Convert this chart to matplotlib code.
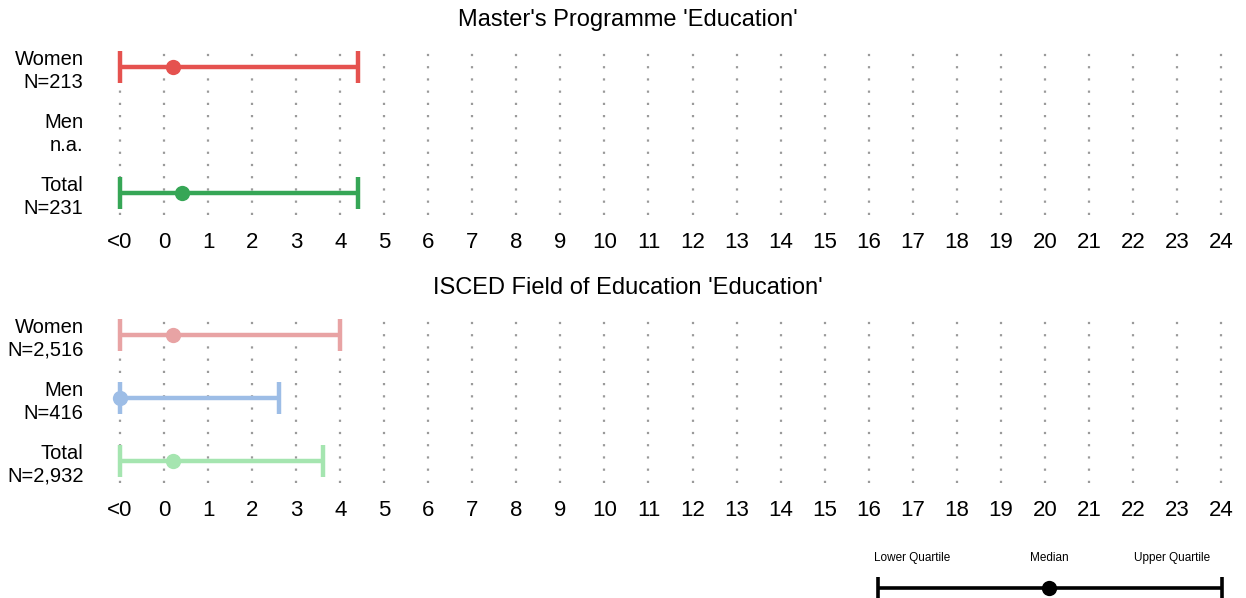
import matplotlib
matplotlib.use('Agg')
import matplotlib.pyplot as plt

plt.rcParams['font.family'] = ['Liberation Sans', 'DejaVu Sans']

W, H = 1246, 598

# values (x = -1 stands for "<0")
tick_vals = list(range(-1, 25))
tick_labels = ['<0'] + [str(i) for i in range(0, 25)]

top_title = "Master's Programme 'Education'"
top_labels = ['Women\nN=213', 'Men\nn.a.', 'Total\nN=231']
top_lower = [-1, None, -1]
top_median = [0.2, None, 0.4]
top_upper = [4.4, None, 4.4]
top_colors = ['#e5524f', None, '#36a656']

bot_title = "ISCED Field of Education 'Education'"
bot_labels = ['Women\nN=2,516', 'Men\nN=416', 'Total\nN=2,932']
bot_lower = [-1, -1, -1]
bot_median = [0.2, -1, 0.2]
bot_upper = [4.0, 2.6, 3.6]
bot_colors = ['#e8a3a4', '#9dbde6', '#a5e5b0']


def px_axes(fig, left, top, right, bottom):
    return fig.add_axes([left / W, 1 - bottom / H, (right - left) / W, (bottom - top) / H])


def panel(fig, top_px, title, labels, lower, median, upper, colors):
    unit = 44.04
    left, right = 110, 1231
    # rows at top_px, +63, +126
    ax = px_axes(fig, left, top_px - 0.35 * 63, right, top_px + 2.35 * 63)
    ax.set_xlim(-1 - 10 / unit, 24 + 10 / unit)
    ax.set_ylim(2.35, -0.35)
    for x in tick_vals:
        ax.axvline(x, color='#9a9a9a', lw=1.6, ls=(0, (1, 4.5)), zorder=0)
    for i in range(len(labels)):
        if median[i] is None:
            continue
        c = colors[i]
        ax.plot([lower[i], upper[i]], [i, i], color=c, lw=3.2, solid_capstyle='butt', zorder=2)
        for v in (lower[i], upper[i]):
            ax.plot([v, v], [i - 0.25, i + 0.25], color=c, lw=3.2, solid_capstyle='butt', zorder=2)
        ax.plot(median[i], i, 'o', color=c, ms=11, mec='none', zorder=3)
    ax.set_yticks(range(len(labels)))
    ax.set_yticklabels(labels, fontsize=14.5, linespacing=1.25)
    ax.tick_params(axis='y', length=0, pad=19)
    ax.set_xticks(tick_vals)
    ax.set_xticklabels(tick_labels, fontsize=16)
    ax.tick_params(axis='x', length=0, pad=12)
    for s in ax.spines.values():
        s.set_visible(False)
    ax.patch.set_alpha(0)
    fig.text(628 / W, 1 - (top_px - 47) / H, title,
             ha='center', va='center', fontsize=17)
    return ax


fig = plt.figure(figsize=(W / 100, H / 100), dpi=100)
panel(fig, 67, top_title, top_labels, top_lower, top_median, top_upper, top_colors)
panel(fig, 335, bot_title, bot_labels, bot_lower, bot_median, bot_upper, bot_colors)

# legend
lg = px_axes(fig, 870, 540, 1232, 598)
lg.set_xlim(870, 1232)
lg.set_ylim(598, 540)
lg.axis('off')
lg.plot([878, 1222], [588, 588], color='black', lw=2.6, solid_capstyle='butt')
for v in (878, 1222):
    lg.plot([v, v], [577, 599], color='black', lw=2.6, solid_capstyle='butt')
lg.plot(1049, 588, 'o', color='black', ms=11, mec='none')
lg.text(912, 558, 'Lower Quartile', ha='center', va='center', fontsize=8.5)
lg.text(1049, 558, 'Median', ha='center', va='center', fontsize=8.5)
lg.text(1172, 558, 'Upper Quartile', ha='center', va='center', fontsize=8.5)

fig.savefig('out.png', dpi=100)
